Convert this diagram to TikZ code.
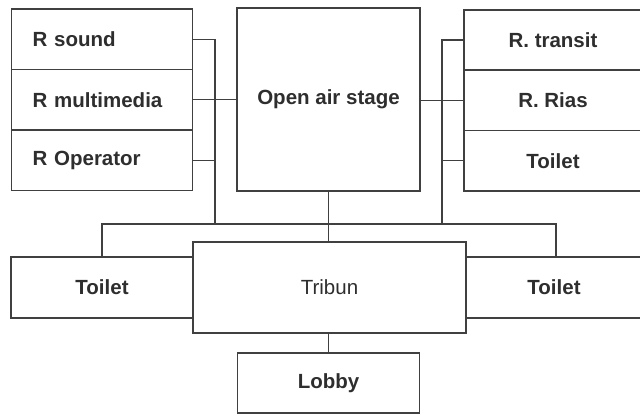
\documentclass[tikz,border=0pt]{standalone}
\usepackage{fontspec}
\setmainfont{Liberation Sans}
\definecolor{linec}{HTML}{404040}
\definecolor{textc}{HTML}{2E2E2E}
\begin{document}
\begin{tikzpicture}[x=1pt,y=-1pt,
  box/.style={draw=linec, line width=1.4pt, rectangle, inner sep=0pt, text=textc,
    font=\fontsize{20.5}{24}\selectfont\bfseries},
  leftbox/.style={box, minimum width=181pt, minimum height=60.5pt, inner xsep=21pt,
    text width=139pt, align=left},
  conn/.style={draw=linec, line width=1.2pt}]
\useasboundingbox (0,0) rectangle (640,414);
\begin{scope}
\clip (0,0) rectangle (640,414);
% left column
\node[leftbox] (rs) at (102,39.25) {R sound};
\node[leftbox] (rm) at (102,99.75) {R multimedia};
\node[leftbox] (ro) at (102,160.25) {R Operator};
% stage
\node[box, minimum width=183pt, minimum height=183pt] (stage) at (328.5,99.5) {Open air stage};
% right column
\node[box, minimum width=178pt, minimum height=60pt] (rt) at (553,40) {R. transit};
\node[box, minimum width=178pt, minimum height=60.5pt] (rr) at (553,100.25) {R. Rias};
\node[box, minimum width=178pt, minimum height=60.5pt] (rto) at (553,160.75) {Toilet};
% bottom row
\node[box, minimum width=182pt, minimum height=61pt] (lt) at (102,287.5) {Toilet};
\node[box, minimum width=273pt, minimum height=91pt, font=\fontsize{20.5}{24}\selectfont] (tr) at (329.5,287.5) {Tribun};
\node[box, minimum width=176pt, minimum height=61pt] (rtt) at (554,287.5) {Toilet};
\node[box, minimum width=182pt, minimum height=60pt] (lobby) at (328.5,383) {Lobby};
% junctions
\coordinate (lbus) at (215,224);
\coordinate (rbus) at (442,224);
\coordinate (bl) at (102,224);
\coordinate (br) at (556,224);
% connectors left
\draw[conn] (rs.east) -| (lbus);
\draw[conn] (rm.east) -- (rm.east -| stage.west);
\draw[conn] (ro.east) -- (ro.east -| lbus);
% connectors right
\draw[conn] (rt.west) -| (rbus);
\draw[conn] (rr.west) -- (rr.west -| stage.east);
\draw[conn] (rto.west) -- (rto.west -| rbus);
% bus
\draw[conn] (lt.north) -- (bl) -- (br) -- (br |- rtt.north);
\draw[conn] (stage.south) -- (stage.south |- tr.north);
\draw[conn] (lobby.north) -- (lobby.north |- tr.south);
\end{scope}
\end{tikzpicture}
\end{document}
